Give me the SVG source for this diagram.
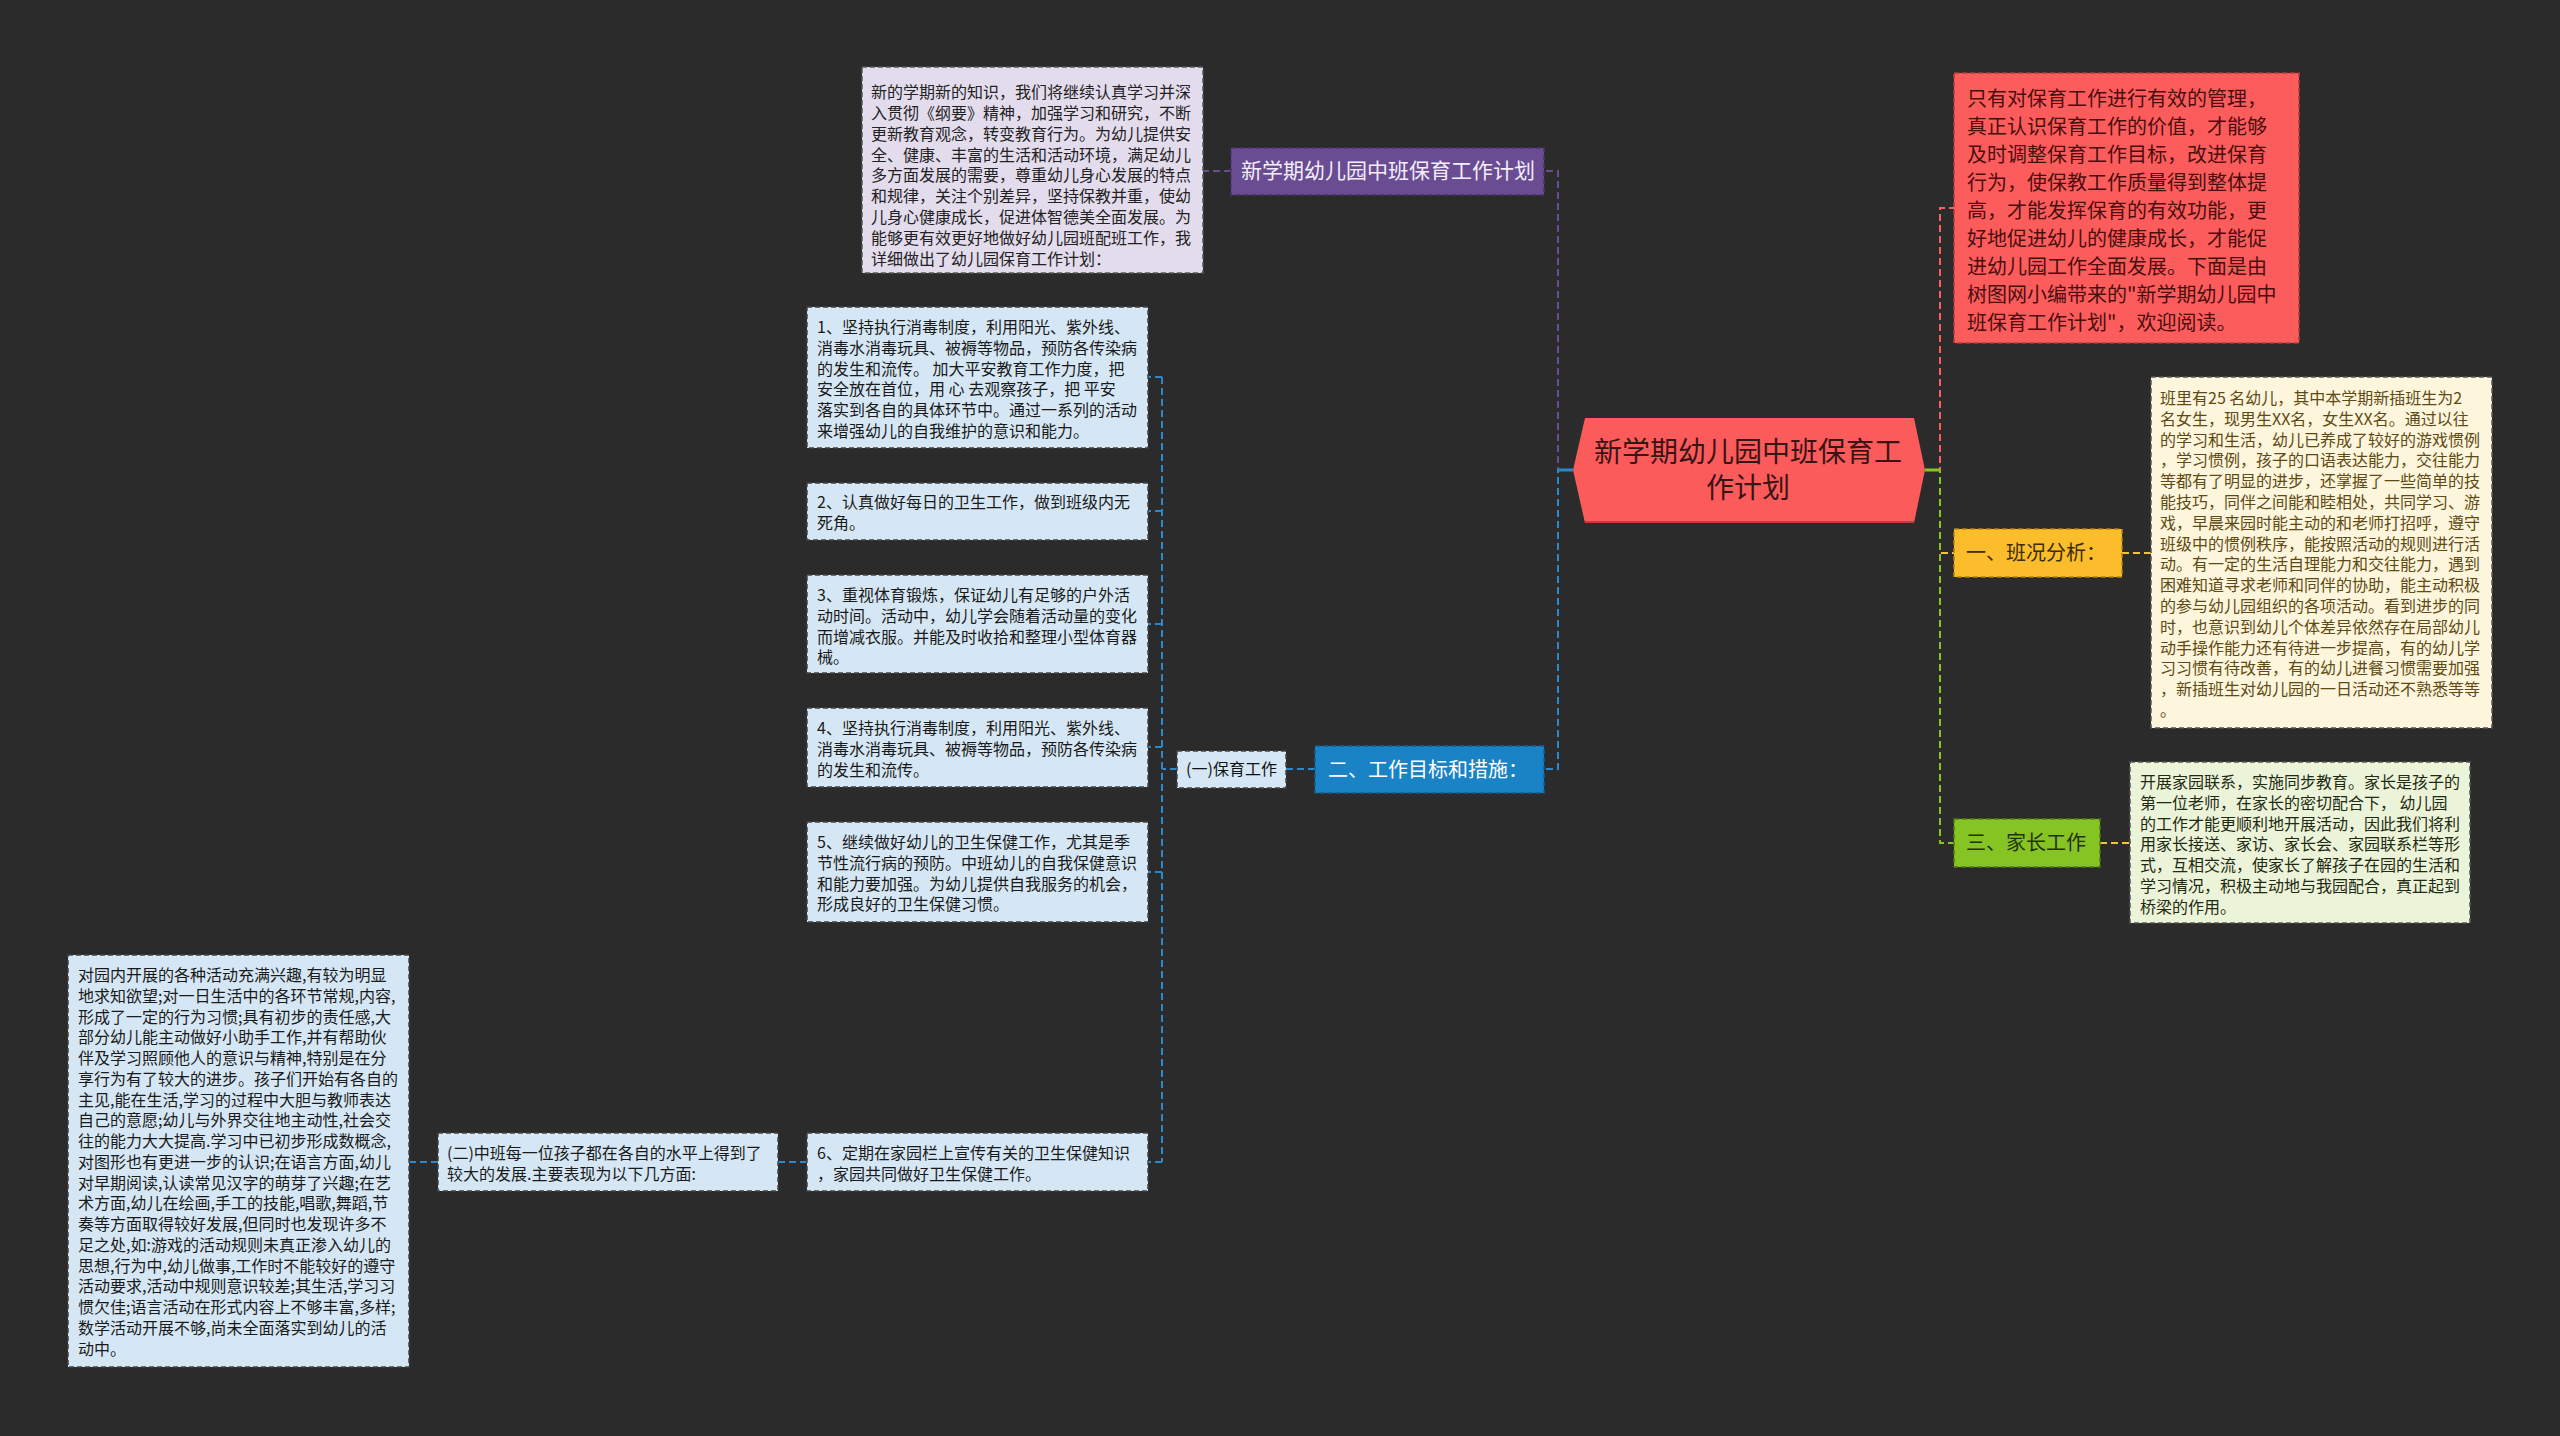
<svg xmlns="http://www.w3.org/2000/svg" width="2560" height="1436" viewBox="0 0 2560 1436">
<style>
.t{font-family:"Noto Sans CJK SC","Noto Sans",sans-serif;}
.s16{font-size:16px;}
.s20{font-size:20px;}
.box{stroke-width:1.5;stroke-dasharray:5 3;}
.cn{fill:none;stroke-width:2;stroke-dasharray:7 4;}
</style>
<rect x="0" y="0" width="2560" height="1436" fill="#2b2b2b"/>
<g id="connectors">
<path class="cn" stroke="#6a4c93" d="M1573,470 H1558 V171 H1544"/>
<path class="cn" stroke="#6a4c93" d="M1231,171 H1203"/>
<path class="cn" stroke="#2a88cc" d="M1573,470 H1558 V769 H1544"/>
<path class="cn" stroke="#2a88cc" d="M1315,769 H1286"/>
<path class="cn" stroke="#2a88cc" d="M1177,769 H1162 M1162,377 V1162 M1162,377 H1148 M1162,511 H1148 M1162,624 H1148 M1162,747 H1148 M1162,872 H1148 M1162,1162 H1148"/>
<path class="cn" stroke="#2a88cc" d="M807,1162 H778 M438,1162 H409"/>
<path fill="none" stroke="#2a88cc" stroke-width="3" d="M1558,470 H1573"/>
<path class="cn" stroke="#fc5c5c" d="M1925,470 H1940 V208 H1954"/>
<path class="cn" stroke="#f5c033" d="M1925,470 H1940 V553 H1954 M2122,553 H2151"/>
<path class="cn" stroke="#86c424" d="M1925,470 H1940 V843 H1954"/>
<path class="cn" stroke="#f5c033" d="M2100,843 H2130"/>
<path fill="none" stroke="#86c424" stroke-width="3" d="M1925,470 H1940"/>
</g>
<g id="center">
<polygon points="1585,418 1914,418 1925,470 1914,523 1585,523 1573,470" fill="#fc5b5b"/>
<path d="M1585,522 H1914" stroke="#c43c3c" stroke-width="2"/>
<text class="t" font-size="28" fill="#3a1414" text-anchor="middle"><tspan x="1748" y="462">新学期幼儿园中班保育工</tspan><tspan x="1748" y="498">作计划</tspan></text>
</g>
<g id="n-purple">
<rect class="box" x="1231" y="148" width="313" height="47" fill="#6a4c93" stroke="#4a3370"/>
<text class="t" font-size="21" fill="#f3eef9" x="1388" y="178" text-anchor="middle">新学期幼儿园中班保育工作计划</text>
</g>
<g id="n-intro">
<rect class="box" x="862" y="67" width="341" height="206" fill="#e3dcec" stroke="#555"/>
<text class="t s16" fill="#222">
<tspan x="871" y="98">新的学期新的知识，我们将继续认真学习并深</tspan>
<tspan x="871" y="118.9">入贯彻《纲要》精神，加强学习和研究，不断</tspan>
<tspan x="871" y="139.7">更新教育观念，转变教育行为。为幼儿提供安</tspan>
<tspan x="871" y="160.6">全、健康、丰富的生活和活动环境，满足幼儿</tspan>
<tspan x="871" y="181.4">多方面发展的需要，尊重幼儿身心发展的特点</tspan>
<tspan x="871" y="202.3">和规律，关注个别差异，坚持保教并重，使幼</tspan>
<tspan x="871" y="223.1">儿身心健康成长，促进体智德美全面发展。为</tspan>
<tspan x="871" y="244">能够更有效更好地做好幼儿园班配班工作，我</tspan>
<tspan x="871" y="264.8">详细做出了幼儿园保育工作计划：</tspan>
</text>
</g>
<g id="n-blue">
<rect class="box" x="1315" y="746" width="229" height="47" fill="#1a83c6" stroke="#145f92"/>
<text class="t s20" fill="#ffffff" x="1428" y="777" text-anchor="middle">二、工作目标和措施：</text>
</g>
<g id="n-care">
<rect class="box" x="1177" y="751" width="109" height="37" fill="#d5e7f4" stroke="#444"/>
<text class="t s16" fill="#111" x="1231.5" y="775" text-anchor="middle">(一)保育工作</text>
</g>
<g id="n-b1">
<rect class="box" x="807" y="307" width="341" height="141" fill="#d5e7f4" stroke="#444"/>
<text class="t s16" fill="#1a1a1a">
<tspan x="817" y="333">1、坚持执行消毒制度，利用阳光、紫外线、</tspan>
<tspan x="817" y="353.8">消毒水消毒玩具、被褥等物品，预防各传染病</tspan>
<tspan x="817" y="374.6">的发生和流传。 加大平安教育工作力度，把</tspan>
<tspan x="817" y="395.4">安全放在首位，用 心 去观察孩子，把 平安</tspan>
<tspan x="817" y="416.2">落实到各自的具体环节中。通过一系列的活动</tspan>
<tspan x="817" y="437">来增强幼儿的自我维护的意识和能力。</tspan>
</text>
</g>
<g id="n-b2">
<rect class="box" x="807" y="483" width="341" height="57" fill="#d5e7f4" stroke="#444"/>
<text class="t s16" fill="#1a1a1a">
<tspan x="817" y="508">2、认真做好每日的卫生工作，做到班级内无</tspan>
<tspan x="817" y="529">死角。</tspan>
</text>
</g>
<g id="n-b3">
<rect class="box" x="807" y="575" width="341" height="98" fill="#d5e7f4" stroke="#444"/>
<text class="t s16" fill="#1a1a1a">
<tspan x="817" y="601">3、重视体育锻炼，保证幼儿有足够的户外活</tspan>
<tspan x="817" y="621.8">动时间。活动中，幼儿学会随着活动量的变化</tspan>
<tspan x="817" y="642.6">而增减衣服。并能及时收拾和整理小型体育器</tspan>
<tspan x="817" y="663.4">械。</tspan>
</text>
</g>
<g id="n-b4">
<rect class="box" x="807" y="708" width="341" height="79" fill="#d5e7f4" stroke="#444"/>
<text class="t s16" fill="#1a1a1a">
<tspan x="817" y="734">4、坚持执行消毒制度，利用阳光、紫外线、</tspan>
<tspan x="817" y="754.8">消毒水消毒玩具、被褥等物品，预防各传染病</tspan>
<tspan x="817" y="775.6">的发生和流传。</tspan>
</text>
</g>
<g id="n-b5">
<rect class="box" x="807" y="822" width="341" height="100" fill="#d5e7f4" stroke="#444"/>
<text class="t s16" fill="#1a1a1a">
<tspan x="817" y="848">5、继续做好幼儿的卫生保健工作，尤其是季</tspan>
<tspan x="817" y="868.8">节性流行病的预防。中班幼儿的自我保健意识</tspan>
<tspan x="817" y="889.6">和能力要加强。为幼儿提供自我服务的机会，</tspan>
<tspan x="817" y="910.4">形成良好的卫生保健习惯。</tspan>
</text>
</g>
<g id="n-b6">
<rect class="box" x="807" y="1133" width="341" height="58" fill="#d5e7f4" stroke="#444"/>
<text class="t s16" fill="#1a1a1a">
<tspan x="817" y="1159">6、定期在家园栏上宣传有关的卫生保健知识</tspan>
<tspan x="817" y="1180">，家园共同做好卫生保健工作。</tspan>
</text>
</g>
<g id="n-two">
<rect class="box" x="438" y="1133" width="340" height="58" fill="#d5e7f4" stroke="#444"/>
<text class="t s16" fill="#1a1a1a">
<tspan x="447" y="1159">(二)中班每一位孩子都在各自的水平上得到了</tspan>
<tspan x="447" y="1180">较大的发展.主要表现为以下几方面:</tspan>
</text>
</g>
<g id="n-left">
<rect class="box" x="68" y="955" width="341" height="412" fill="#d5e7f4" stroke="#444"/>
<text class="t s16" fill="#1a1a1a">
<tspan x="78" y="981">对园内开展的各种活动充满兴趣,有较为明显</tspan>
<tspan x="78" y="1001.75">地求知欲望;对一日生活中的各环节常规,内容,</tspan>
<tspan x="78" y="1022.5">形成了一定的行为习惯;具有初步的责任感,大</tspan>
<tspan x="78" y="1043.25">部分幼儿能主动做好小助手工作,并有帮助伙</tspan>
<tspan x="78" y="1064">伴及学习照顾他人的意识与精神,特别是在分</tspan>
<tspan x="78" y="1084.75">享行为有了较大的进步。孩子们开始有各自的</tspan>
<tspan x="78" y="1105.5">主见,能在生活,学习的过程中大胆与教师表达</tspan>
<tspan x="78" y="1126.25">自己的意愿;幼儿与外界交往地主动性,社会交</tspan>
<tspan x="78" y="1147">往的能力大大提高.学习中已初步形成数概念,</tspan>
<tspan x="78" y="1167.75">对图形也有更进一步的认识;在语言方面,幼儿</tspan>
<tspan x="78" y="1188.5">对早期阅读,认读常见汉字的萌芽了兴趣;在艺</tspan>
<tspan x="78" y="1209.25">术方面,幼儿在绘画,手工的技能,唱歌,舞蹈,节</tspan>
<tspan x="78" y="1230">奏等方面取得较好发展,但同时也发现许多不</tspan>
<tspan x="78" y="1250.75">足之处,如:游戏的活动规则未真正渗入幼儿的</tspan>
<tspan x="78" y="1271.5">思想,行为中,幼儿做事,工作时不能较好的遵守</tspan>
<tspan x="78" y="1292.25">活动要求,活动中规则意识较差;其生活,学习习</tspan>
<tspan x="78" y="1313">惯欠佳;语言活动在形式内容上不够丰富,多样;</tspan>
<tspan x="78" y="1333.75">数学活动开展不够,尚未全面落实到幼儿的活</tspan>
<tspan x="78" y="1354.5">动中。</tspan>
</text>
</g>
<g id="n-red">
<rect class="box" x="1954" y="73" width="345" height="270" fill="#fc5c5c" stroke="#b53a3a"/>
<text class="t s20" fill="#4a0e0e">
<tspan x="1967" y="105.6">只有对保育工作进行有效的管理，</tspan>
<tspan x="1967" y="133.7">真正认识保育工作的价值，才能够</tspan>
<tspan x="1967" y="161.8">及时调整保育工作目标，改进保育</tspan>
<tspan x="1967" y="189.9">行为，使保教工作质量得到整体提</tspan>
<tspan x="1967" y="218">高，才能发挥保育的有效功能，更</tspan>
<tspan x="1967" y="246.1">好地促进幼儿的健康成长，才能促</tspan>
<tspan x="1967" y="274.2">进幼儿园工作全面发展。下面是由</tspan>
<tspan x="1967" y="302.3">树图网小编带来的"新学期幼儿园中</tspan>
<tspan x="1967" y="330.4">班保育工作计划"，欢迎阅读。</tspan>
</text>
</g>
<g id="n-yellow">
<rect class="box" x="1954" y="529" width="168" height="48" fill="#fbbd2b" stroke="#b8860b"/>
<text class="t s20" fill="#3a2c05" x="1966" y="560">一、班况分析：</text>
</g>
<g id="n-yellow-text">
<rect class="box" x="2151" y="377" width="341" height="351" fill="#fdf5dc" stroke="#555"/>
<text class="t s16" fill="#5e4a12">
<tspan x="2160" y="404">班里有25 名幼儿，其中本学期新插班生为2</tspan>
<tspan x="2160" y="424.8">名女生，现男生XX名，女生XX名。通过以往</tspan>
<tspan x="2160" y="445.6">的学习和生活，幼儿已养成了较好的游戏惯例</tspan>
<tspan x="2160" y="466.4">，学习惯例，孩子的口语表达能力，交往能力</tspan>
<tspan x="2160" y="487.2">等都有了明显的进步，还掌握了一些简单的技</tspan>
<tspan x="2160" y="508">能技巧，同伴之间能和睦相处，共同学习、游</tspan>
<tspan x="2160" y="528.8">戏，早晨来园时能主动的和老师打招呼，遵守</tspan>
<tspan x="2160" y="549.6">班级中的惯例秩序，能按照活动的规则进行活</tspan>
<tspan x="2160" y="570.4">动。有一定的生活自理能力和交往能力，遇到</tspan>
<tspan x="2160" y="591.2">困难知道寻求老师和同伴的协助，能主动积极</tspan>
<tspan x="2160" y="612">的参与幼儿园组织的各项活动。看到进步的同</tspan>
<tspan x="2160" y="632.8">时，也意识到幼儿个体差异依然存在局部幼儿</tspan>
<tspan x="2160" y="653.6">动手操作能力还有待进一步提高，有的幼儿学</tspan>
<tspan x="2160" y="674.4">习习惯有待改善，有的幼儿进餐习惯需要加强</tspan>
<tspan x="2160" y="695.2">，新插班生对幼儿园的一日活动还不熟悉等等</tspan>
<tspan x="2160" y="716">。</tspan>
</text>
</g>
<g id="n-green">
<rect class="box" x="1954" y="819" width="146" height="48" fill="#86c424" stroke="#4f7a12"/>
<text class="t s20" fill="#1f3306" x="1966" y="850">三、家长工作</text>
</g>
<g id="n-green-text">
<rect class="box" x="2130" y="762" width="340" height="161" fill="#ebf3d8" stroke="#555"/>
<text class="t s16" fill="#1e2a12">
<tspan x="2140" y="788">开展家园联系，实施同步教育。家长是孩子的</tspan>
<tspan x="2140" y="808.8">第一位老师，在家长的密切配合下， 幼儿园</tspan>
<tspan x="2140" y="829.6">的工作才能更顺利地开展活动，因此我们将利</tspan>
<tspan x="2140" y="850.4">用家长接送、家访、家长会、家园联系栏等形</tspan>
<tspan x="2140" y="871.2">式，互相交流，使家长了解孩子在园的生活和</tspan>
<tspan x="2140" y="892">学习情况，积极主动地与我园配合，真正起到</tspan>
<tspan x="2140" y="912.8">桥梁的作用。</tspan>
</text>
</g>
</svg>
